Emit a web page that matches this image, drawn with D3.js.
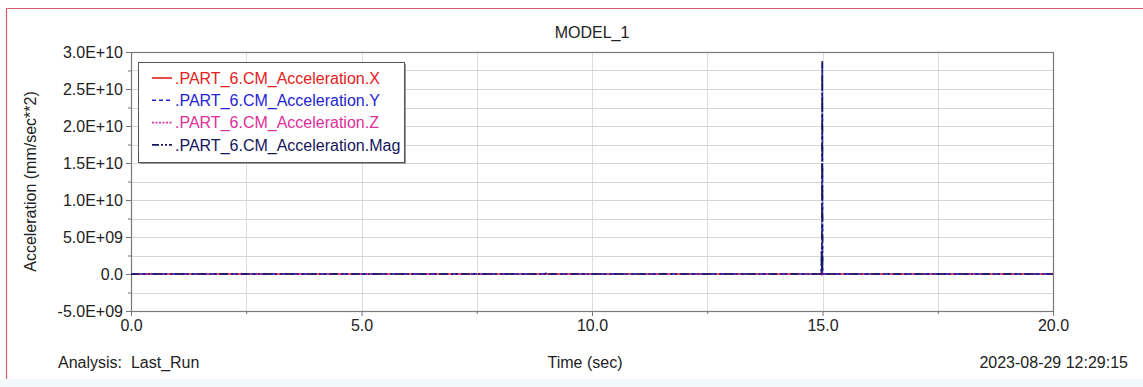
<!DOCTYPE html>
<html>
<head>
<meta charset="utf-8">
<script src="https://cdn.jsdelivr.net/npm/d3@7"></script>
<style>
  html, body { margin: 0; padding: 0; background: #ffffff; }
  svg { display: block; }
  text { font-family: "Liberation Sans", Arial, sans-serif; fill: #222; }
</style>
</head>
<body>
<svg id="chart" width="1143" height="387"></svg>
<script>
// ---- data ----
const chartTitle = "MODEL_1";
const xTitle = "Time (sec)";
const yTitle = "Acceleration (mm/sec**2)";
const footerLeft = "Analysis:  Last_Run";
const footerRight = "2023-08-29 12:29:15";

const seriesNames = [".PART_6.CM_Acceleration.X", ".PART_6.CM_Acceleration.Y", ".PART_6.CM_Acceleration.Z", ".PART_6.CM_Acceleration.Mag"];

const time  = [0, 8.98, 9.0, 9.02, 14.975, 14.98, 14.985, 14.995, 15.0, 15.01, 20];
const accX  = [0, 0, 5e7, 0, 0, 2e8, 0, 3e8, 0, 0, 0];
const accY  = [0, 0, 1e8, 0, 0, 3.1e9, 1e8, 2.86e10, 0, 0, 0];
const accZ  = [0, 0, 5e7, 0, 0, 1e8, 0, 2e8, 0, 0, 0];
const accMag= [0, 0, 1.2e8, 0, 0, 3.2e9, 2e8, 2.88e10, 0, 0, 0];

const xDomain = [0, 20];
const yDomain = [-5e9, 3e10];
const xTicks = [0, 5, 10, 15, 20];
const xTickLabels = ["0.0", "5.0", "10.0", "15.0", "20.0"];
const xMinorTicks = [2.5, 7.5, 12.5, 17.5];
const yTicks = [-5e9, 0, 5e9, 1e10, 1.5e10, 2e10, 2.5e10, 3e10];
const yTickLabels = ["-5.0E+09", "0.0", "5.0E+09", "1.0E+10", "1.5E+10", "2.0E+10", "2.5E+10", "3.0E+10"];
const yMinorTicks = [-2.5e9, 2.5e9, 7.5e9, 1.25e10, 1.75e10, 2.25e10, 2.75e10];

// ---- layout ----
const svg = d3.select("#chart");
const W = 1143, H = 387;
const L = 131, R = 1053, T = 52, B = 311;

const x = d3.scaleLinear().domain(xDomain).range([L, R]);
const y = d3.scaleLinear().domain(yDomain).range([B, T]);

// background band and border
svg.append("rect").attr("x", 0).attr("y", 379).attr("width", W).attr("height", H - 379).attr("fill", "#f3f9fb");
svg.append("line").attr("x1", 6.5).attr("x2", W).attr("y1", 8.5).attr("y2", 8.5).attr("stroke", "#d25f6d").attr("stroke-width", 1.2);
svg.append("line").attr("x1", 6.5).attr("x2", 6.5).attr("y1", 8.5).attr("y2", 379).attr("stroke", "#d25f6d").attr("stroke-width", 1.2);

// grid
const gridX = xTicks.concat(xMinorTicks);
const gridY = yTicks.concat(yMinorTicks);
svg.append("g").selectAll("line").data(gridX).join("line")
  .attr("x1", d => Math.round(x(d)) + 0.5).attr("x2", d => Math.round(x(d)) + 0.5)
  .attr("y1", T).attr("y2", B).attr("stroke", "#dcdcdc").attr("stroke-width", 1);
svg.append("g").selectAll("line").data(gridY).join("line")
  .attr("x1", L).attr("x2", R)
  .attr("y1", d => Math.round(y(d)) + 0.5).attr("y2", d => Math.round(y(d)) + 0.5)
  .attr("stroke", "#d6d6d6").attr("stroke-width", 1);

// axes using d3 axis
const yAxis = d3.axisLeft(y).tickValues(yTicks).tickFormat((d, i) => yTickLabels[i]).tickSize(5).tickPadding(3);
const gy = svg.append("g").attr("transform", `translate(${L},0)`).call(yAxis);
const yAxisMinor = d3.axisLeft(y).tickValues(yMinorTicks).tickFormat("").tickSize(3);
const gym = svg.append("g").attr("transform", `translate(${L},0)`).call(yAxisMinor);

const xAxis = d3.axisBottom(x).tickValues(xTicks).tickFormat((d, i) => xTickLabels[i]).tickSize(5).tickPadding(4);
const gx = svg.append("g").attr("transform", `translate(0,${B})`).call(xAxis);
const xAxisMinor = d3.axisBottom(x).tickValues(xMinorTicks).tickFormat("").tickSize(3);
const gxm = svg.append("g").attr("transform", `translate(0,${B})`).call(xAxisMinor);

[gy, gym, gx, gxm].forEach(g => {
  g.select(".domain").remove();
  g.selectAll(".tick line").attr("stroke", "#777");
  g.selectAll(".tick text").style("font-family", "Liberation Sans, Arial, sans-serif").style("font-size", "16px").attr("fill", "#222");
});

// frame
svg.append("rect").attr("x", L + 0.5).attr("y", T + 0.5).attr("width", R - L).attr("height", B - T)
  .attr("fill", "none").attr("stroke", "#7a7a7a").attr("stroke-width", 1.2);

// series
const colors = ["#e42222", "#2424d4", "#e0309a", "#16165c"];
const dashes = [null, "6,4", "2,2", "9,3,2,3,2,3"];
const seriesData = [accX, accY, accZ, accMag];
const line = d3.line().x((d, i) => x(time[i])).y(d => y(d));
const order = [0, 2, 1, 3];
const gLines = svg.append("g");
order.forEach(k => {
  gLines.append("path").datum(seriesData[k])
    .attr("d", line)
    .attr("fill", "none")
    .attr("stroke", colors[k])
    .attr("stroke-width", 1.6)
    .attr("stroke-dasharray", dashes[k]);
});

// legend
const lg = svg.append("g");
const lx = 138, ly = 62, lw = 266, lh = 100;
lg.append("rect").attr("x", lx + 2).attr("y", ly + 2).attr("width", lw).attr("height", lh).attr("fill", "#9a9a9a");
lg.append("rect").attr("x", lx + 0.5).attr("y", ly + 0.5).attr("width", lw).attr("height", lh)
  .attr("fill", "#ffffff").attr("stroke", "#555").attr("stroke-width", 1);
seriesNames.forEach((name, i) => {
  const cy = ly + 16 + i * 22.3;
  lg.append("line").attr("x1", 152).attr("x2", 172).attr("y1", cy).attr("y2", cy)
    .attr("stroke", colors[i]).attr("stroke-width", 1.6).attr("stroke-dasharray", dashes[i] ? (i === 3 ? "7,2,2,2,2,2" : (i === 1 ? "4,3" : "2,1.5")) : null);
  lg.append("text").attr("x", 175).attr("y", cy).attr("dy", "0.35em")
    .style("font-size", "16px").style("fill", colors[i]).text(name);
});

// titles
svg.append("text").attr("x", (L + R) / 2).attr("y", 32).attr("dy", "0.35em").attr("text-anchor", "middle")
  .style("font-size", "16px").text(chartTitle);
svg.append("text").attr("transform", `translate(30,${(T + B) / 2}) rotate(-90)`).attr("dy", "0.35em")
  .attr("text-anchor", "middle").style("font-size", "16px").text(yTitle);
svg.append("text").attr("x", (L + R) / 2 - 7).attr("y", 362).attr("dy", "0.35em").attr("text-anchor", "middle")
  .style("font-size", "16px").text(xTitle);
svg.append("text").attr("x", 58).attr("y", 362).attr("dy", "0.35em").style("font-size", "16px")
  .style("white-space", "pre").attr("xml:space", "preserve").text(footerLeft);
svg.append("text").attr("x", 1128).attr("y", 362).attr("dy", "0.35em").attr("text-anchor", "end")
  .style("font-size", "16px").text(footerRight);
</script>
</body>
</html>
